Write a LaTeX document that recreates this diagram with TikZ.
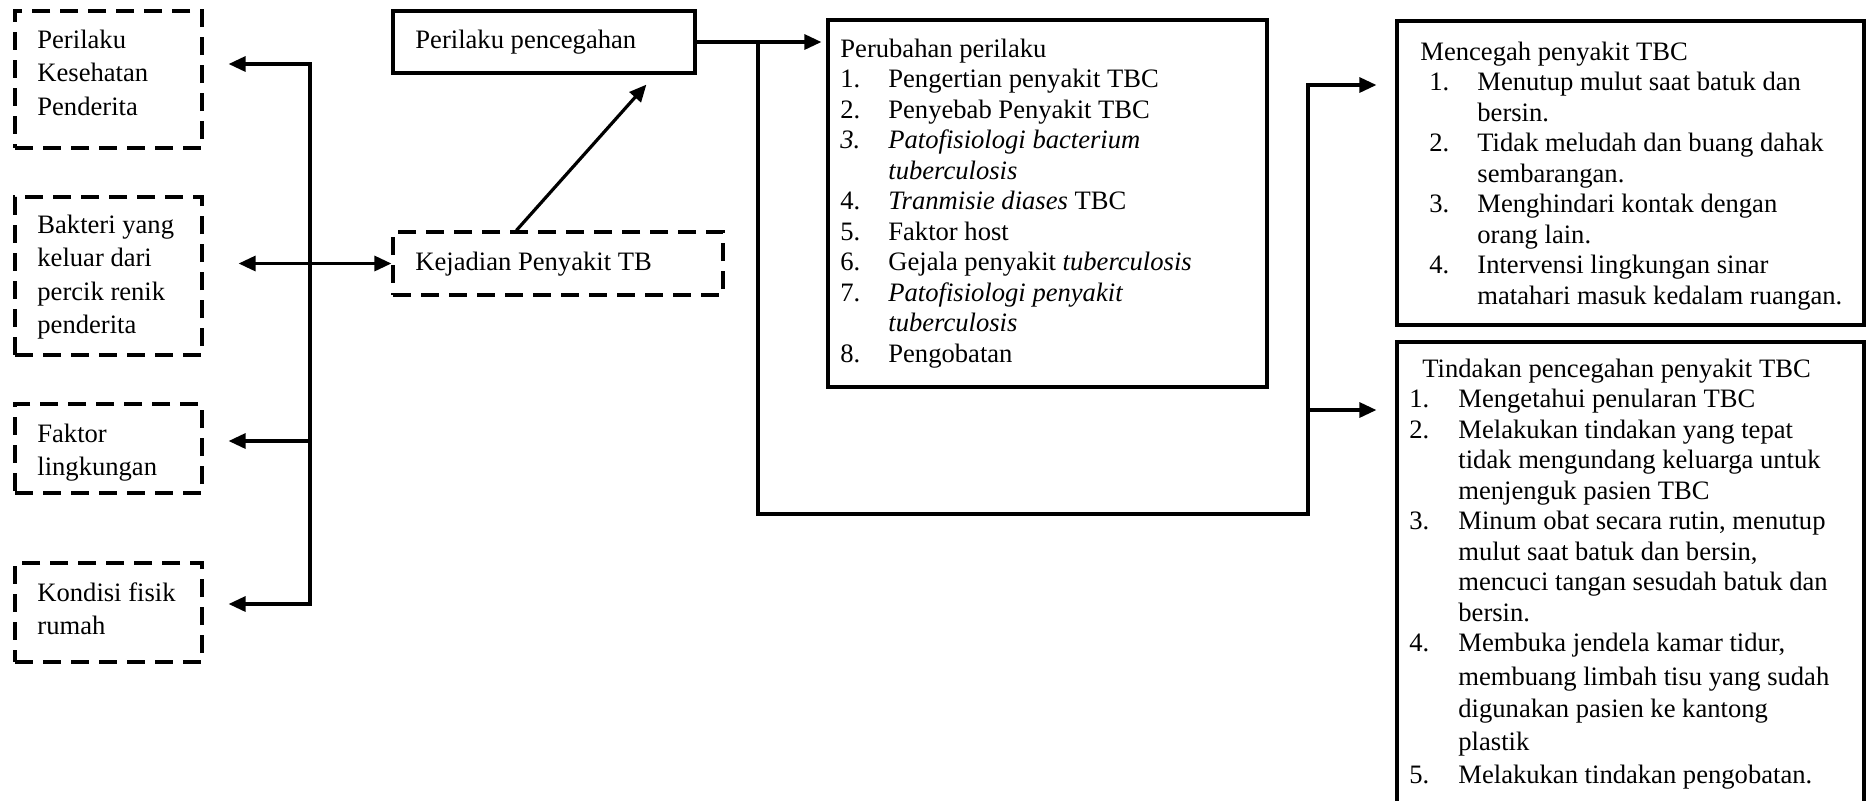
\documentclass[tikz,border=0pt]{standalone}
\usepackage{fontspec}
\setmainfont{Liberation Serif}
\usetikzlibrary{arrows.meta,fit,calc}
\tikzset{
  x=0.5pt, y=-0.5pt,
  ln/.style={line width=1.6pt},
  tip/.tip={Triangle[length=8.5pt,width=7.5pt]},
  arr/.style={ln, -tip},
  dbl/.style={ln, tip-tip},
  solidbox/.style={draw, line width=1.6pt, inner sep=0pt, rectangle},
  dashbox/.style={draw, line width=1.6pt, inner sep=0pt, rectangle, dash pattern=on 9pt off 5pt},
  txt/.style={anchor=base west, inner sep=0pt, font=\fontsize{13.3}{15.25}\selectfont},
  txtl/.style={anchor=base west, inner sep=0pt, font=\fontsize{13.3}{16.75}\selectfont},
}
\begin{document}
\begin{tikzpicture}
\clip (0,0) rectangle (1870,800);
% boxes
\node[dashbox, fit={(15,11) (202,148)}] (b1) {};
\node[dashbox, fit={(15,197) (202,355)}] (b2) {};
\node[dashbox, fit={(15,404) (202,493)}] (b3) {};
\node[dashbox, fit={(15,563) (202,662)}] (b4) {};
\node[solidbox, fit={(393,11) (695,73)}] (pp) {};
\node[dashbox, fit={(393,232) (723,295)}] (kej) {};
\node[solidbox, fit={(828,20) (1267,387)}] (pr) {};
\node[solidbox, fit={(1397,21) (1864,325)}] (mc) {};
\node[solidbox, fit={(1397,342) (1864,830)}] (td) {};
% texts
\node[txtl] (b1t) at (37,48) {\begin{tabular}[t]{@{}l@{}}Perilaku\\Kesehatan\\Penderita\end{tabular}};
\node[txtl] (b2t) at (37,233) {\begin{tabular}[t]{@{}l@{}}Bakteri yang\\keluar dari\\percik renik\\penderita\end{tabular}};
\node[txtl] (b3t) at (37,442) {\begin{tabular}[t]{@{}l@{}}Faktor\\lingkungan\end{tabular}};
\node[txtl] (b4t) at (37,601) {\begin{tabular}[t]{@{}l@{}}Kondisi fisik\\rumah\end{tabular}};
\node[txt] (ppt) at (415,48) {Perilaku pencegahan};
\node[txt] (kejt) at (415,270) {Kejadian Penyakit TB};
\node[txt] (prt) at (840,57) {\begin{tabular}[t]{@{}p{24pt}@{}l@{}}
\multicolumn{2}{@{}l@{}}{Perubahan perilaku}\\
1. & Pengertian penyakit TBC\\
2. & Penyebab Penyakit TBC\\
\textit{3.} & \textit{Patofisiologi bacterium}\\
 & \textit{tuberculosis}\\
4. & \textit{Tranmisie diases} TBC\\
5. & Faktor host\\
6. & Gejala penyakit \textit{tuberculosis}\\
7. & \textit{Patofisiologi penyakit}\\
 & \textit{tuberculosis}\\
8. & Pengobatan
\end{tabular}};
\node[txt] (mct) at (1420,60) {\begin{tabular}[t]{@{\hspace{4.5pt}}p{24pt}@{}l@{}}
\multicolumn{2}{@{}l@{}}{Mencegah penyakit TBC}\\
1. & Menutup mulut saat batuk dan\\
 & bersin.\\
2. & Tidak meludah dan buang dahak\\
 & sembarangan.\\
3. & Menghindari kontak dengan\\
 & orang lain.\\
4. & Intervensi lingkungan sinar\\
 & matahari masuk kedalam ruangan.
\end{tabular}};
\node[txt] (tdt) at (1409,377) {\begin{tabular}[t]{@{}p{24.5pt}@{}l@{}}
\multicolumn{2}{@{\hspace{6.5pt}}l@{}}{Tindakan pencegahan penyakit TBC}\\
1. & Mengetahui penularan TBC\\
2. & Melakukan tindakan yang tepat\\
 & tidak mengundang keluarga untuk\\
 & menjenguk pasien TBC\\
3. & Minum obat secara rutin, menutup\\
 & mulut saat batuk dan bersin,\\
 & mencuci tangan sesudah batuk dan\\
 & bersin.\\
4. & Membuka jendela kamar tidur,\\[1.5pt]
 & membuang limbah tisu yang sudah\\[1.2pt]
 & digunakan pasien ke kantong\\[1.2pt]
 & plastik\\[1.2pt]
5. & Melakukan tindakan pengobatan.
\end{tabular}};
% left connectors
\coordinate (tTop) at (310,64);
\coordinate (tMid) at (310,441);
\coordinate (tBot) at (310,604);
\draw[dbl, shorten <=12.5pt, shorten >=12.5pt] (tTop -| b1.east) -- (tTop) -- (tBot) -- (tBot -| b4.east);
\draw[arr, shorten >=12.5pt] (tMid) -- (tMid -| b3.east);
\draw[dbl, shorten <=17.5pt] (kej.west -| b2.east) -- (kej.west);
\draw[arr] ($(kej.north west)+(125,0)$) -- ($(pp.south west)+(255,10)$);
% right connectors
\coordinate (j1) at (758,42);
\coordinate (j2) at (758,514);
\coordinate (j3) at (1308,514);
\coordinate (j4) at (1308,85);
\coordinate (j5) at (1308,410);
\draw[arr, shorten >=2.5pt] (pp.east) -- (pp.east -| pr.west);
\draw[arr, shorten >=9.5pt] (j1) -- (j2) -- (j3) -- (j4) -- (j4 -| mc.west);
\draw[arr, shorten >=9.5pt] (j5) -- (j5 -| td.west);
\end{tikzpicture}
\end{document}
